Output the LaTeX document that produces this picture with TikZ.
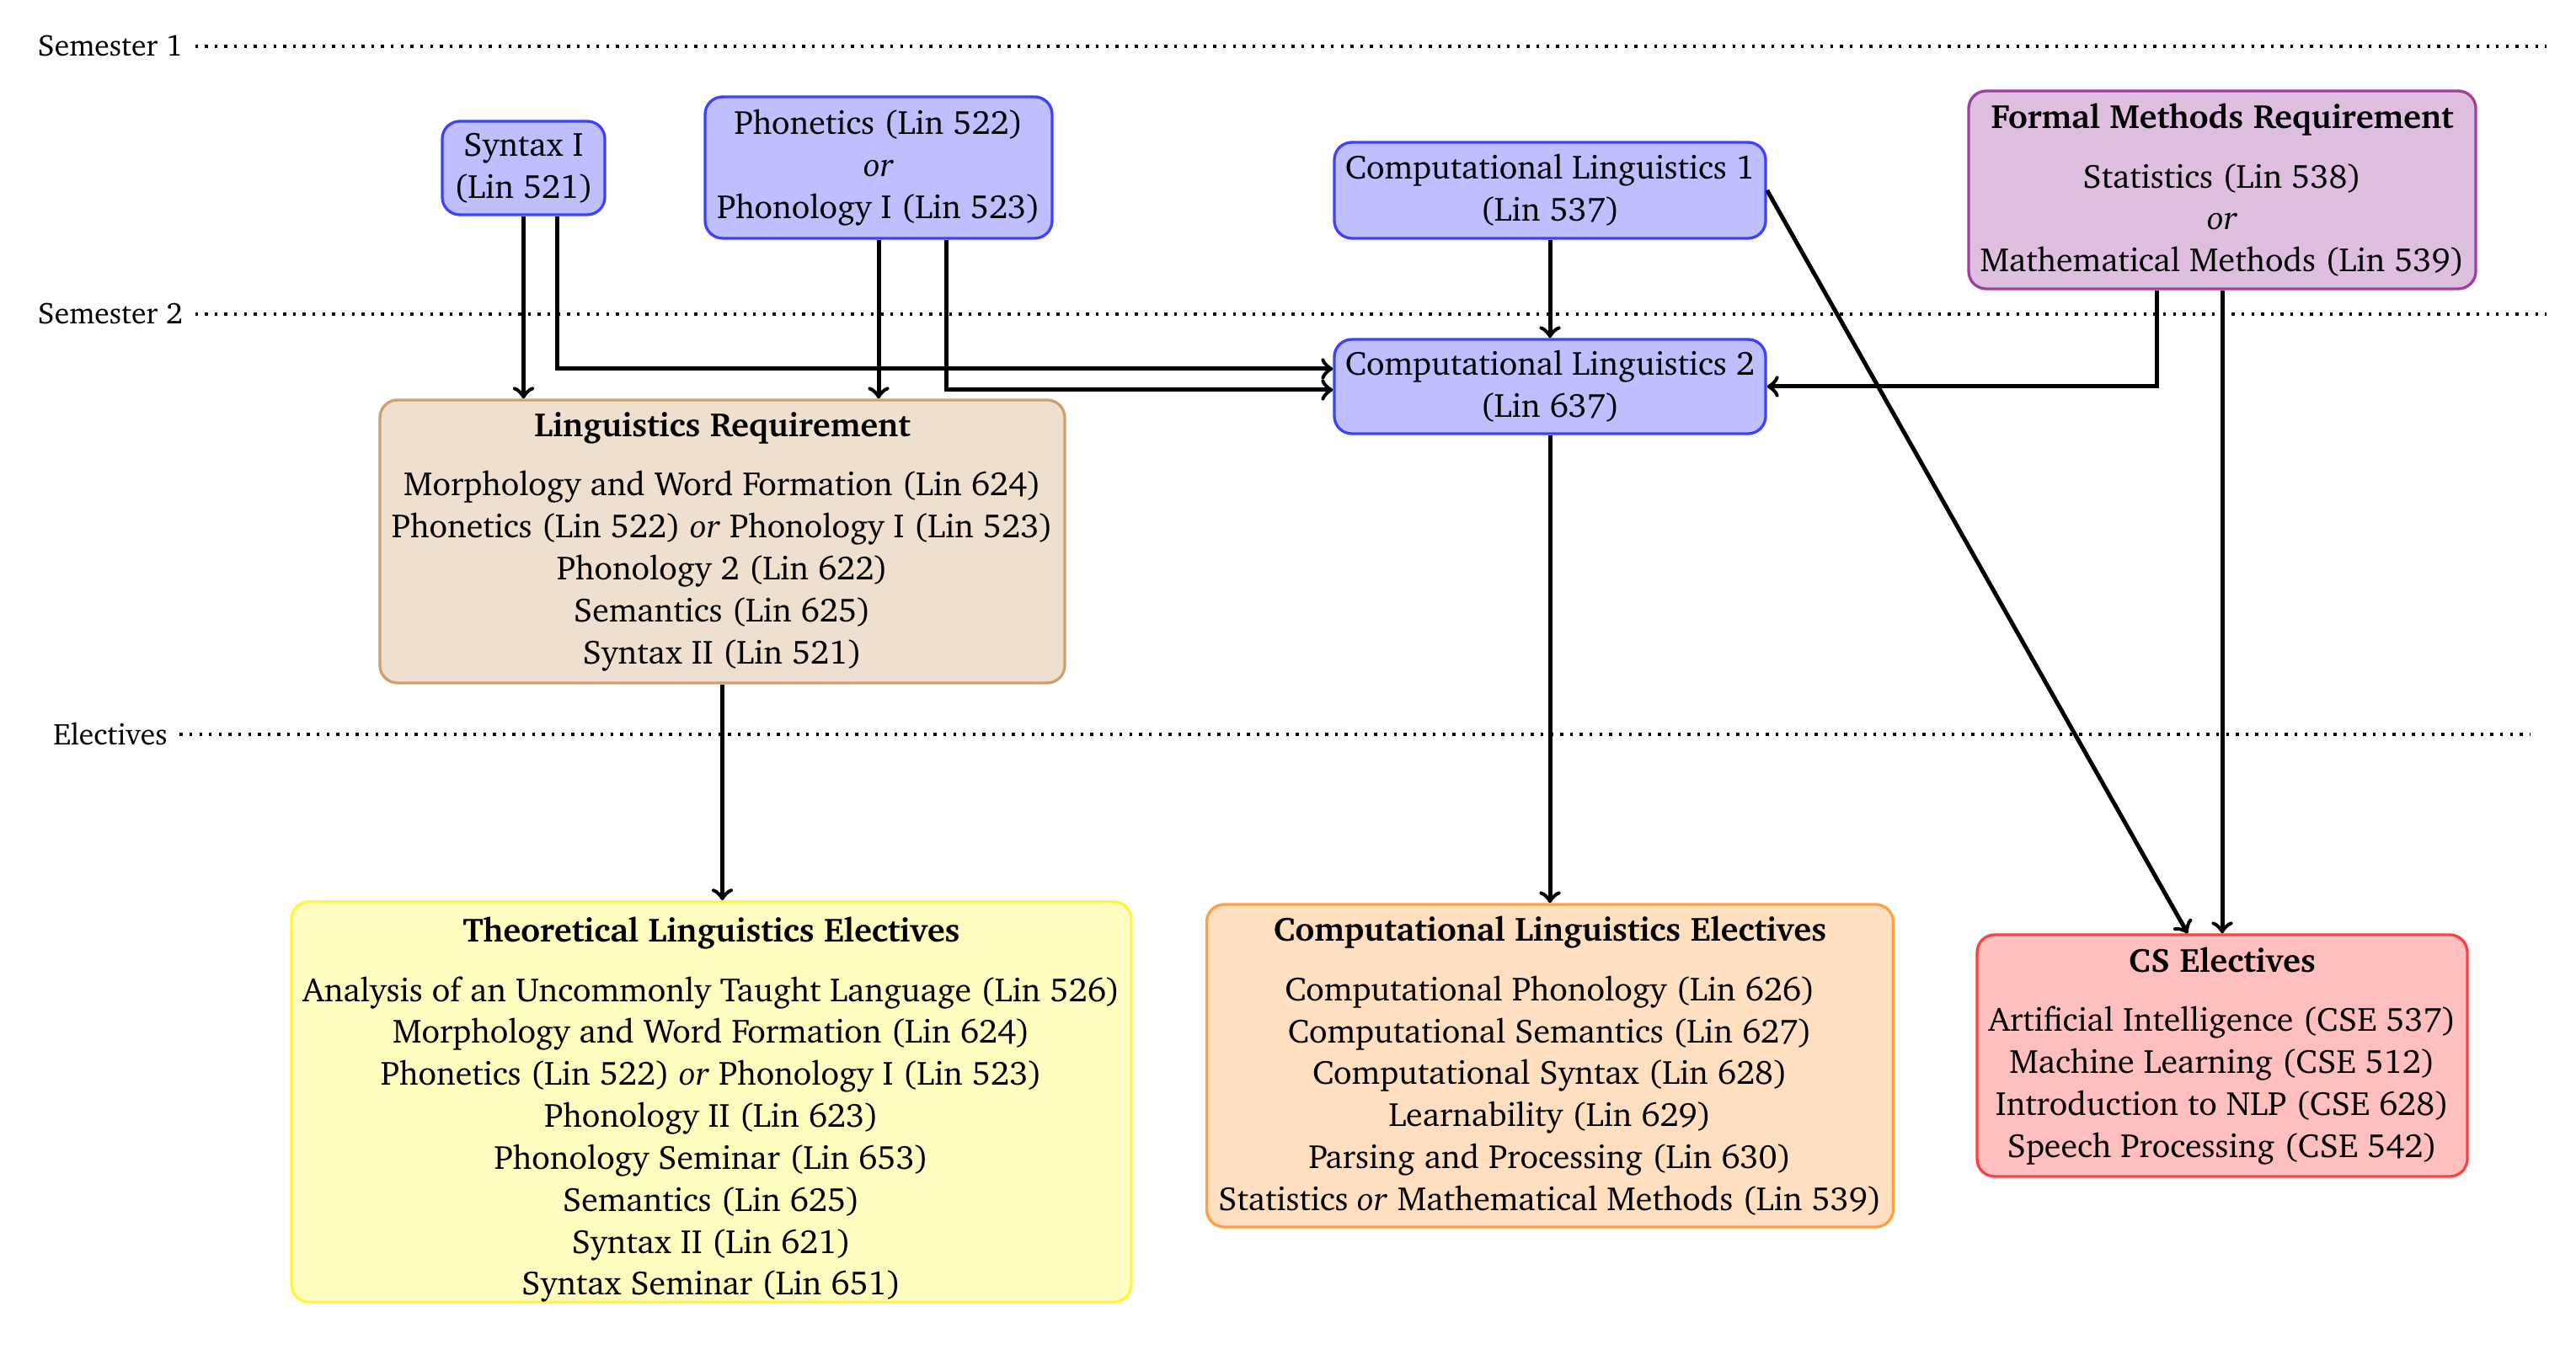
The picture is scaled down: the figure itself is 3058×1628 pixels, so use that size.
\documentclass[tikz,border=0pt]{standalone}
\usepackage[T1]{fontenc}
\usepackage{charter}
\usetikzlibrary{calc}
\begin{document}
\begin{tikzpicture}[x=0.24bp,y=-0.24bp,
  box/.style={rounded corners=5bp, thick, align=center, inner sep=0pt, font=\fontsize{9.6}{12}\selectfont},
  sz/.style 2 args={minimum width={#1*0.24bp}, minimum height={#2*0.24bp}},
  bluebox/.style={box, draw=blue!75, fill=blue!25},
  violetbox/.style={box, draw=violet!75, fill=violet!25},
  brownbox/.style={box, draw=brown!75, fill=brown!25},
  yellowbox/.style={box, draw=yellow!75, fill=yellow!25},
  orangebox/.style={box, draw=orange!75, fill=orange!25},
  redbox/.style={box, draw=red!75, fill=red!25},
  arr/.style={very thick, ->},
  semline/.style={thick, dotted},
  semlabel/.style={inner sep=3.3pt, font=\fontsize{8.6}{10.5}\selectfont}]
\fill[white] (0,0) rectangle (3058,1628);
\useasboundingbox (0,0) rectangle (3058,1628);

% semester labels and lines
\node[semlabel] (lab1) at (131,55) {Semester 1};
\node[semlabel] (lab2) at (131,373) {Semester 2};
\node[semlabel] (lab3) at (131,872) {Electives};
\coordinate (e1) at (3023,55);
\coordinate (e2) at (3023,373);
\coordinate (e3) at (3004,872);
\draw[semline] (lab1.east) -- (lab1.east -| e1);
\draw[semline] (lab2.east) -- (lab2.east -| e2);
\draw[semline] (lab3.east) -- (lab3.east -| e3);

% semester 1 nodes
\node[bluebox, sz={193}{111}] (syn1) at (621.5,199.5) {Syntax I\\(Lin 521)};
\node[bluebox, sz={412}{168}] (phon) at (1043,199) {Phonetics (Lin 522)\\\textit{or}\\Phonology I (Lin 523)};
\node[bluebox, sz={512}{114}] (cl1) at (1840,226) {Computational Linguistics 1\\(Lin 537)};
\node[violetbox, sz={602}{235}] (fm) at (2638,225.5) {\textbf{Formal Methods Requirement}\\[5pt]Statistics (Lin 538)\\\textit{or}\\Mathematical Methods (Lin 539)};

% semester 2 nodes
\node[bluebox, sz={512}{112}] (cl2) at (1840,459) {Computational Linguistics 2\\(Lin 637)};
\node[brownbox, sz={813}{336}] (lr) at (857.5,643) {\textbf{Linguistics Requirement}\\[5pt]Morphology and Word Formation (Lin 624)\\Phonetics (Lin 522) \textit{or} Phonology I (Lin 523)\\Phonology 2 (Lin 622)\\Semantics (Lin 625)\\Syntax II (Lin 521)};

% electives
\node[yellowbox, sz={997}{471}] (te) at (844.5,1308.5) {\rule{0pt}{11.5pt}\textbf{Theoretical Linguistics Electives}\\[5pt]Analysis of an Uncommonly Taught Language (Lin 526)\\Morphology and Word Formation (Lin 624)\\Phonetics (Lin 522) \textit{or} Phonology I (Lin 523)\\Phonology II (Lin 623)\\Phonology Seminar (Lin 653)\\Semantics (Lin 625)\\Syntax II (Lin 621)\\Syntax Seminar (Lin 651)};
\node[orangebox, sz={815}{383}] (ce) at (1840,1265.5) {\textbf{Computational Linguistics Electives}\\[5pt]Computational Phonology (Lin 626)\\Computational Semantics (Lin 627)\\Computational Syntax (Lin 628)\\Learnability (Lin 629)\\Parsing and Processing (Lin 630)\\Statistics \textit{or} Mathematical Methods (Lin 539)};
\node[redbox, sz={582}{287}] (cs) at (2638,1253.5) {\textbf{CS Electives}\\[5pt]Artificial Intelligence (CSE 537)\\Machine Learning (CSE 512)\\Introduction to NLP (CSE 628)\\Speech Processing (CSE 542)};

% connectors
\draw[arr] (syn1.south) -- (syn1.south |- lr.north);
\draw[arr] ($(syn1.south)+(39.5,0)$) |- ($(cl2.west)+(0,-21)$);
\draw[arr] (phon.south) -- (phon.south |- lr.north);
\draw[arr] ($(phon.south)+(80,0)$) |- ($(cl2.west)+(0,4)$);
\draw[arr] (cl1.south) -- (cl2.north);
\draw[arr] ($(fm.south)+(-78,0)$) |- (cl2.east);
\draw[arr] (fm.south) -- (cs.north);
\draw[arr] (cl1.east) -- ($(cs.north)+(-41,0)$);
\draw[arr] (cl2.south) -- (cl2.south |- ce.north);
\draw[arr] (lr.south) -- (lr.south |- te.north);
\end{tikzpicture}
\end{document}
